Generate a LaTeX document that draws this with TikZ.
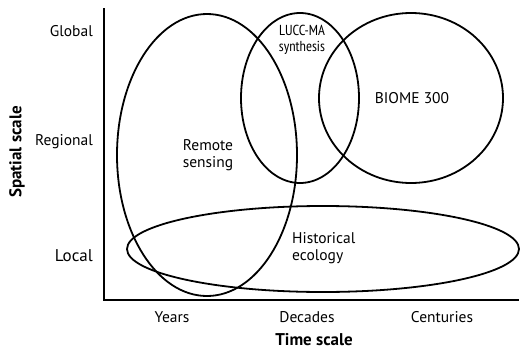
\documentclass[tikz,border=0pt]{standalone}
\usepackage{fontspec}
\setmainfont{PT Sans}
\newfontfamily\condfont{PT Sans Narrow}
\begin{document}
\begin{tikzpicture}[x=1pt,y=-1pt,
  ell/.style={draw=black,line width=1.8pt},
  axis/.style={draw=black,line width=1.3pt},
  lbl/.style={font=\fontsize{15.5}{16.5}\selectfont,align=center,inner sep=0pt},
  ylbl/.style={font=\fontsize{15.5}{17}\selectfont,anchor=east,inner sep=0pt}]
\useasboundingbox (0,0) rectangle (520,351);
\coordinate (top) at (104,8);
\coordinate (org) at (104,300);
\coordinate (rgt) at (519,300);
\draw[axis] (top) -- (org) -- (rgt);
\draw[ell] (207,155) ellipse [x radius=90, y radius=141];
\draw[ell] (300,98) ellipse [x radius=59, y radius=85];
\draw[ell] (411,98) ellipse [x radius=92, y radius=85];
\draw[ell] (323,249) ellipse [x radius=196, y radius=43];
\node[ylbl] (g) at (93,31) {Global};
\node[ylbl] (r) at (93,142) {Regional};
\node[ylbl,font=\fontsize{17}{19}\selectfont] (l) at (93,256) {Local};
\node[lbl] (yr) at (172,317) {Years};
\node[lbl] (dc) at (307,317) {Decades};
\node[lbl] (ce) at (442,317) {Centuries};
\node[lbl,font=\fontsize{17}{19}\selectfont\bfseries] (ts) at (314,340) {Time scale};
\node[lbl,font=\fontsize{17}{19}\selectfont\bfseries,rotate=90] (ss) at (17,152) {Spatial scale};
\node[lbl] (rs) at (208,155) {Remote\\sensing};
\node[lbl,font=\condfont\fontsize{14.5}{15.5}\selectfont] (lu) at (302,40) {LUCC-MA\\synthesis};
\node[lbl] (bi) at (412,98) {BIOME 300};
\node[lbl,align=left,anchor=west] (he) at (292,248) {Historical\\ecology};
\end{tikzpicture}
\end{document}
